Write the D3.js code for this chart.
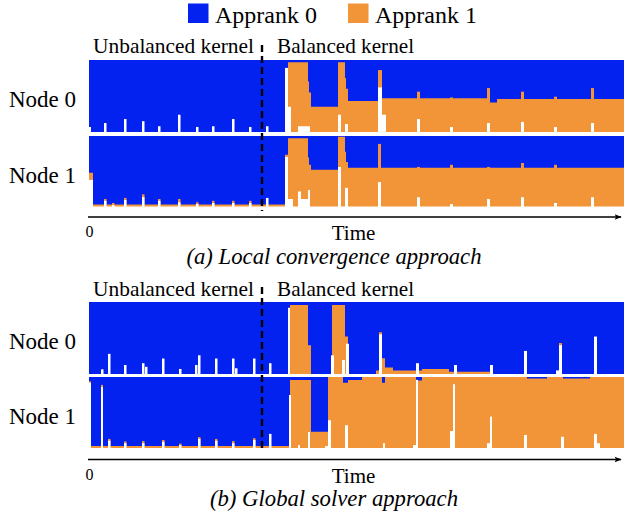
<!DOCTYPE html>
<html>
<head>
<meta charset="utf-8">
<script src="https://cdn.jsdelivr.net/npm/d3@7"></script>
<style>
  body { margin: 0; background: #fff; }
  text { font-family: "Liberation Serif", "DejaVu Serif", serif; fill: #000; }
</style>
</head>
<body>
<script>
var appranks = ["Apprank 0", "Apprank 1"];
var colors = ["#0322f0", "#f29539"];
var nodeNames = ["Node 0", "Node 1"];
var phaseLabels = ["Unbalanced kernel", "Balanced kernel"];
var captions = ["(a) Local convergence approach", "(b) Global solver approach"];
var timeEnd = 535;
var kernelSwitch = 173;

// busy levels in % of the node
// orange: [time, top of Apprank 1 (incl. idle)]  idle: [time, idle level]
// spikes: [time, width, idle top, Apprank 1 cap top]
var a0Idle = [[0, 0]];
var a0Orange = [[0, 0], [199, 97], [219, 70], [220, 55], [222, 35], [249, 97], [256, 75], [257, 60], [259, 43], [293, 47], [398, 41], [408, 46]];
var a0Spikes = [[0, 2, 7, 0], [15, 2.5, 12.5, 0], [35, 2.5, 18, 0], [53, 2.5, 15, 0], [69, 2.5, 8, 0], [89, 2.5, 24, 0],
    [107, 2.5, 7, 0], [123, 2.5, 8, 0], [143, 2.5, 18, 0], [160, 2.5, 7, 0], [177, 2.5, 8, 0],
    [196, 3, 89, 0], [199, 3, 35, 0], [209, 12, 8, 0], [249, 3, 24, 0], [256, 3, 11, 0], [289, 4, 62, 86], [293, 4, 24, 0],
    [328, 3, 18, 56], [361, 3, 7, 48], [398, 3, 12.5, 61], [432, 3, 14, 56], [465, 3, 7, 49], [502, 3, 12.5, 61]];

var a1Idle = [[0, 2]];
var a1Orange = [[0, 5], [196, 74], [199, 97], [219, 70], [220, 60], [222, 53], [249, 99], [256, 78], [257, 64], [259, 56]];
var a1Spikes = [[0, 4, 39, 49], [15, 2.5, 10, 12.5], [23, 2.5, 4, 7], [35, 2.5, 11, 14], [53, 2.5, 15, 19], [69, 2.5, 10, 12.5],
    [89, 2.5, 8, 12.5], [107, 2.5, 5.5, 8], [123, 2.5, 7, 10], [143, 2.5, 7, 10], [160, 2.5, 7, 10], [177, 2.5, 14, 0],
    [196, 3, 71, 0], [199, 5, 12.5, 0], [209, 3, 23, 0], [212, 7, 12.5, 0], [219, 2, 25, 0], [249, 3, 57, 0], [256, 3, 28, 0],
    [289, 3, 36, 89], [328, 3, 15, 57], [361, 3, 5.5, 60], [398, 3, 12.5, 57], [432, 3, 15, 62.5], [465, 3, 7, 60], [502, 3, 15, 0]];

var b0Idle = [[0, 0]];
var b0Orange = [[0, 0], [201, 96], [219, 40], [222, 0], [243, 96], [256, 52], [259, 0], [287, 5], [293, 22], [296, 9],
    [304, 5], [333, 7], [360, 3], [401, 0]];
var b0Spikes = [[12, 2.5, 6.5, 0], [19, 2.5, 28, 0], [35, 2.5, 12.5, 0], [53, 2.5, 15, 0], [56, 2.5, 10, 0], [73, 2.5, 21.5, 0],
    [90, 2.5, 7, 0], [106, 2.5, 12.5, 0], [109, 2.5, 26, 0], [126, 2.5, 21.5, 0], [143, 2.5, 21.5, 0], [146, 2.5, 8, 0],
    [164, 2.5, 21.5, 0], [180, 2.5, 15, 0],
    [199, 2, 92, 0], [242, 3, 26, 0], [253, 3, 19.5, 0], [257, 3, 42, 0], [290, 3, 55, 58], [327, 3, 15, 0], [365, 3, 12.5, 0],
    [401, 3, 12.5, 0], [435, 3, 32, 0], [467, 3, 5, 0], [470, 3, 40, 43], [505, 3, 52, 0]];

var b1Idle = [[0, 1.5]];
var b1Orange = [[0, 4], [201, 96], [222, 24], [239, 100], [254, 92], [259, 96], [273, 100], [293, 92], [296, 100],
    [327, 95], [333, 100], [438, 98], [458, 100], [474, 98], [501, 100]];
var b1Spikes = [[0, 2, 92, 94], [12, 2, 86, 89], [19, 2.5, 11.5, 14], [35, 2.5, 8, 10.5], [53, 2.5, 8, 11], [73, 2.5, 10, 12.5],
    [90, 2.5, 5.5, 7.5], [109, 2.5, 14, 16.5], [126, 2.5, 11.5, 14], [143, 2.5, 8, 11], [164, 2.5, 12.5, 15], [180, 2.5, 21, 0],
    [200, 2, 75, 0], [209, 2, 5.5, 0], [219, 2, 23.5, 0], [236, 3, 4, 0], [239, 3, 40, 0], [256, 3, 33, 0], [294, 2, 8, 0],
    [324, 3, 5.5, 0], [327, 2, 96, 0], [361, 3, 25, 0], [364, 2, 90, 0], [398, 3, 8, 0], [401, 2, 45, 0], [435, 3, 19.5, 0],
    [472, 3, 17, 0], [505, 3, 21, 0], [508, 3, 8, 0]];

var width = 626,
    height = 519;

var svg = d3.select("body")
    .append("svg")
    .attr("width", width)
    .attr("height", height);

var x = d3.scaleLinear().domain([0, timeEnd]).range([89, 624]);

var panels = [
    { labelY: 53.3, dashTop: 45, axisY: 217, caption: captions[0],
      bands: [[60, 132], [136, 208]],
      nodes: [{ idle: a0Idle, orange: a0Orange, spikes: a0Spikes }, { idle: a1Idle, orange: a1Orange, spikes: a1Spikes }] },
    { labelY: 296.3, dashTop: 287, axisY: 459.5, caption: captions[1],
      bands: [[302, 374], [377, 449]],
      nodes: [{ idle: b0Idle, orange: b0Orange, spikes: b0Spikes }, { idle: b1Idle, orange: b1Orange, spikes: b1Spikes }] }
];

// arrow head for the time axis
svg.append("defs").append("marker")
    .attr("id", "arrow")
    .attr("viewBox", "0 -5 10 10")
    .attr("refX", 9).attr("refY", 0)
    .attr("markerWidth", 9).attr("markerHeight", 7)
    .attr("markerUnits", "userSpaceOnUse")
    .attr("orient", "auto")
    .append("path")
    .attr("d", "M0,-4L10,0L0,4L2,0Z")
    .attr("fill", "#000");

// legend
var legend = svg.append("g");
var legendX = [188, 348];
appranks.forEach(function(name, i) {
    legend.append("rect")
        .attr("x", legendX[i]).attr("y", 3.5)
        .attr("width", 20.5).attr("height", 19.5)
        .attr("fill", colors[i]);
    legend.append("text")
        .attr("x", legendX[i] + 27).attr("y", 22.5)
        .style("font-size", "24px")
        .text(name);
});

function stepped(steps) {
    return steps.concat([[timeEnd, steps[steps.length - 1][1]]]);
}

function drawNode(g, band, node) {
    var y = d3.scaleLinear().domain([0, 100]).range([band[1], band[0]]);
    var area = d3.area()
        .curve(d3.curveStepAfter)
        .x(function(d) { return x(d[0]); })
        .y0(y(0))
        .y1(function(d) { return y(d[1]); });

    // Apprank 0 fills the node
    g.append("rect")
        .attr("x", x(0)).attr("y", y(100))
        .attr("width", x(timeEnd) - x(0)).attr("height", y(0) - y(100))
        .attr("fill", colors[0]);

    g.append("path")
        .datum(stepped(node.orange))
        .attr("d", area)
        .attr("fill", colors[1]);

    g.selectAll("rect.cap")
        .data(node.spikes.filter(function(d) { return d[3] > 0; }))
        .enter().append("rect")
        .classed("cap", true)
        .attr("x", function(d) { return x(d[0]); })
        .attr("width", function(d) { return x(d[0] + d[1]) - x(d[0]); })
        .attr("y", function(d) { return y(d[3]); })
        .attr("height", function(d) { return y(0) - y(d[3]); })
        .attr("fill", colors[1]);

    g.append("path")
        .datum(stepped(node.idle))
        .attr("d", area)
        .attr("fill", "#fff");

    g.selectAll("rect.idle")
        .data(node.spikes)
        .enter().append("rect")
        .classed("idle", true)
        .attr("x", function(d) { return x(d[0]); })
        .attr("width", function(d) { return x(d[0] + d[1]) - x(d[0]); })
        .attr("y", function(d) { return y(d[2]); })
        .attr("height", function(d) { return y(0) - y(d[2]); })
        .attr("fill", "#fff");
}

panels.forEach(function(p) {
    var g = svg.append("g");

    p.nodes.forEach(function(node, i) {
        drawNode(g.append("g"), p.bands[i], node);
        g.append("text")
            .attr("x", 9)
            .attr("y", (p.bands[i][0] + p.bands[i][1]) / 2 + 10.7)
            .style("font-size", "23px")
            .text(nodeNames[i]);
    });

    g.append("text")
        .attr("x", x(kernelSwitch) - 8).attr("y", p.labelY)
        .attr("text-anchor", "end")
        .style("font-size", "21.4px")
        .text(phaseLabels[0]);
    g.append("text")
        .attr("x", x(kernelSwitch) + 15).attr("y", p.labelY)
        .style("font-size", "21.2px")
        .text(phaseLabels[1]);

    g.append("line")
        .attr("x1", x(kernelSwitch)).attr("x2", x(kernelSwitch))
        .attr("y1", p.dashTop).attr("y2", p.bands[1][1] + 3)
        .attr("stroke", "#000")
        .attr("stroke-width", 2.4)
        .attr("stroke-dasharray", "7,4");

    // time axis
    g.append("line")
        .attr("x1", 88).attr("x2", 621)
        .attr("y1", p.axisY).attr("y2", p.axisY)
        .attr("stroke", "#000")
        .attr("stroke-width", 1.3)
        .attr("marker-end", "url(#arrow)");

    var axis = g.append("g")
        .attr("transform", "translate(0," + p.axisY + ")")
        .call(d3.axisBottom(x).tickValues([0]).tickSize(0).tickPadding(9));
    axis.select(".domain").remove();
    axis.selectAll("text")
        .style("font-family", '"Liberation Serif", serif')
        .style("font-size", "16px");

    g.append("text")
        .attr("x", 353.5).attr("y", p.axisY + 23.2)
        .attr("text-anchor", "middle")
        .style("font-size", "21px")
        .text("Time");

    g.append("text")
        .attr("x", 334).attr("y", p.axisY + 46.8)
        .attr("text-anchor", "middle")
        .style("font-size", "22.7px")
        .style("font-style", "italic")
        .text(p.caption);
});
</script>
</body>
</html>
